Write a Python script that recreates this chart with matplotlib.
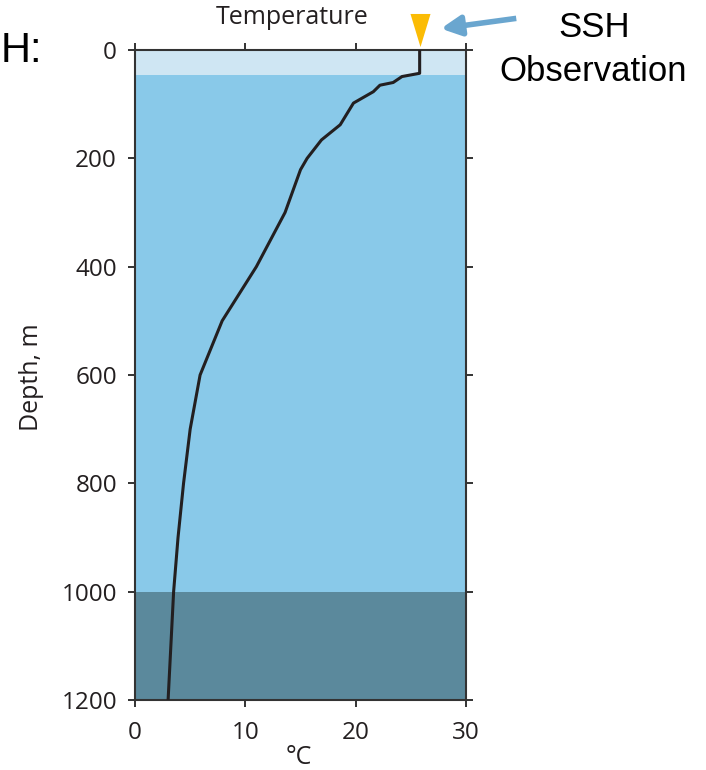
import matplotlib
matplotlib.use('Agg')
from matplotlib import pyplot as plt
from matplotlib.patches import FancyArrowPatch

# temperature profile
depth = [0, 43, 49, 60, 65, 77, 98, 138, 166, 200, 221, 300, 400, 500, 600, 700, 800, 900, 1000, 1200]
temp = [25.8, 25.8, 24.2, 23.4, 22.2, 21.6, 19.8, 18.6, 16.9, 15.6, 15.0, 13.6, 11.0, 7.9, 5.9, 5.0, 4.4, 3.9, 3.5, 3.0]

# water layers (top, bottom, colour)
layer_top = [0, 46, 1000]
layer_bottom = [46, 1000, 1200]
layer_color = ['#cfe6f3', '#89c9e9', '#5b899c']

ssh_temp = 25.8
xticks = [0, 10, 20, 30]
yticks = [0, 200, 400, 600, 800, 1000, 1200]

plt.rcParams['font.family'] = ['Open Sans', 'DejaVu Sans']
W, H = 706, 770

fig = plt.figure(figsize=(W / 100, H / 100), dpi=100)
ax = fig.add_axes([135 / W, 1 - 700 / H, 331 / W, 650 / H])

for t, b, c in zip(layer_top, layer_bottom, layer_color):
    ax.axhspan(t, b, color=c, lw=0, zorder=0)

ax.plot(temp, depth, color='#231f20', lw=2.2, zorder=3)

ax.set_xlim(0, 30)
ax.set_ylim(1200, 0)
ax.set_xticks(xticks)
ax.set_yticks(yticks)
ax.tick_params(direction='out', length=5, width=1.4, color='#333333',
               labelsize=17.5, labelcolor='#231f20', top=True, right=True,
               labeltop=False, labelright=False)
ax.tick_params(axis='y', pad=8)
ax.tick_params(axis='x', pad=10)
for sp in ax.spines.values():
    sp.set_color('#333333')
    sp.set_linewidth(1.5)

fig.text(299 / W, 1 - 764 / H, '°C', fontsize=18, color='#231f20',
         ha='center', va='baseline')
fig.text(32 / W, 1 - 377 / H, 'Depth, m', fontsize=18, color='#231f20',
         ha='center', va='center', rotation=90)
fig.text(292 / W, 1 - 24 / H, 'Temperature', fontsize=18, color='#231f20',
         ha='center', va='baseline')

# SSH marker above the surface
tri = [(-10, 16.5), (10, 16.5), (0, -16.5)]
ax.plot([ssh_temp], [-36], marker=tri, markersize=23.8, color='#fbbc05',
        markeredgewidth=0, clip_on=False, zorder=5)
fig.patches.append(FancyArrowPatch(
    (519 / W, 1 - 18 / H), (438 / W, 1 - 29 / H),
    transform=fig.transFigure, arrowstyle='-|>,head_length=12,head_width=6',
    mutation_scale=1, color='#6aa6cf', lw=4, capstyle='butt'))

fig.text(594 / W, 1 - 37 / H, 'SSH', fontsize=25, family='Liberation Sans',
         ha='center', va='baseline', color='black')
fig.text(593 / W, 1 - 81 / H, 'Observation', fontsize=25, family='Liberation Sans',
         ha='center', va='baseline', color='black')
fig.text(1 / W, 1 - 62 / H, 'H:', fontsize=30, family='Liberation Sans',
         ha='left', va='baseline', color='black')

fig.savefig('out.png', dpi=100)
